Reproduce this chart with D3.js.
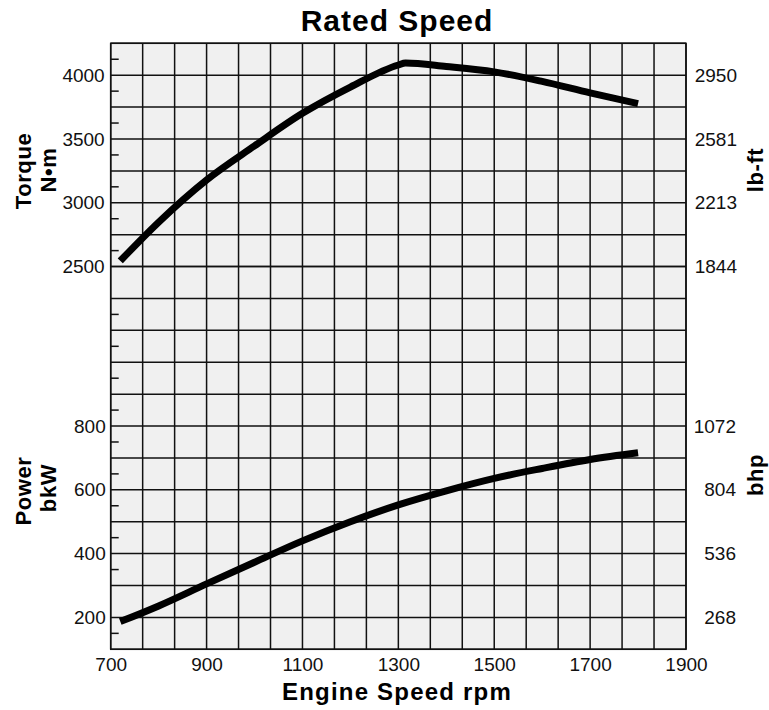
<!DOCTYPE html>
<html>
<head>
<meta charset="utf-8">
<script src="https://cdn.jsdelivr.net/npm/d3@7"></script>
<style>
  body { margin: 0; background: #fff; }
  svg { display: block; font-family: "Liberation Sans", Arial, Helvetica, sans-serif; }
</style>
</head>
<body>
<div id="chart"></div>
<script>
// Rated speed curves: torque and power vs engine speed

// engine speed (rpm) for each sample point
const torqueRpm = [720, 800, 900, 1000, 1100, 1200, 1300, 1315, 1400, 1500, 1600, 1700, 1800];
// torque N·m
const torqueVals = [2545, 2848, 3179, 3446, 3701, 3907, 4080, 4095, 4068, 4026, 3951, 3861, 3777];

const powerRpm = [720, 800, 900, 1000, 1100, 1200, 1300, 1400, 1500, 1600, 1700, 1800];
// power bkW
const powerVals = [187, 236, 305, 373, 440, 500, 553, 597, 636, 667, 695, 716];

// tick labels
const rpmTicks = [700, 900, 1100, 1300, 1500, 1700, 1900];
const torqueTicks = [2500, 3000, 3500, 4000];
const lbftLabels = ["1844", "2213", "2581", "2950"];
const powerTicks = [200, 400, 600, 800];
const bhpLabels = ["268", "536", "804", "1072"];
const torqueMinor = [4125, 3875, 3625, 3375, 3125, 2875, 2625];
const powerMinor = [1150, 1050, 950, 850, 750, 650, 550, 450, 350, 150];

{
    // Layout
    const W = 769, H = 710;
    const pLeft = 110.7, pRight = 686, pTop = 43.3, pBottom = 649.3;
    const cell = (pBottom - pTop) / 19;

    const svg = d3.select("#chart").append("svg")
        .attr("width", W)
        .attr("height", H);

    // Scales
    const x = d3.scaleLinear().domain([700, 1900]).range([pLeft, pRight]);
    const yT = d3.scaleLinear().domain([4250, 2500]).range([pTop, pTop + 7 * cell]);
    const yP = d3.scaleLinear().domain([100, 800]).range([pBottom, pBottom - 7 * cell]);

    // Plot background
    svg.append("rect")
        .attr("x", pLeft).attr("y", pTop)
        .attr("width", pRight - pLeft).attr("height", pBottom - pTop)
        .attr("fill", "#f0f0f0");

    /*#### Grid ####*/
    const grid = svg.append("g").attr("stroke", "#111").attr("stroke-width", 1.5);

    // vertical lines, three per 200 rpm
    grid.selectAll(".vline")
        .data(d3.range(0, 19).map(i => 700 + i * 200 / 3))
        .join("line").attr("class", "vline")
        .attr("x1", d => x(d)).attr("x2", d => x(d))
        .attr("y1", pTop).attr("y2", pBottom);

    // horizontal lines (torque half, then power half)
    grid.selectAll(".ht")
        .data(d3.range(4250, 2499, -250))
        .join("line").attr("class", "ht")
        .attr("x1", pLeft).attr("x2", pRight)
        .attr("y1", d => yT(d)).attr("y2", d => yT(d));
    grid.selectAll(".hp")
        .data(d3.range(100, 1301, 100))
        .join("line").attr("class", "hp")
        .attr("x1", pLeft).attr("x2", pRight)
        .attr("y1", d => yP(d)).attr("y2", d => yP(d));

    // minor ticks on the left border
    grid.selectAll(".mt")
        .data(torqueMinor)
        .join("line").attr("class", "mt")
        .attr("x1", pLeft).attr("x2", pLeft + 8)
        .attr("y1", d => yT(d)).attr("y2", d => yT(d));
    grid.selectAll(".mp")
        .data(powerMinor)
        .join("line").attr("class", "mp")
        .attr("x1", pLeft).attr("x2", pLeft + 8)
        .attr("y1", d => yP(d)).attr("y2", d => yP(d));

    // frame
    svg.append("rect")
        .attr("x", pLeft).attr("y", pTop)
        .attr("width", pRight - pLeft).attr("height", pBottom - pTop)
        .attr("fill", "none").attr("stroke", "#111").attr("stroke-width", 1.5);

    /*#### Axes ####*/
    function styleAxis(g) {
        g.select(".domain").remove();
        g.selectAll("text")
            .attr("font-size", 19)
            .attr("font-family", '"Liberation Sans", Arial, Helvetica, sans-serif')
            .attr("fill", "#111");
    }

    svg.append("g")
        .attr("transform", "translate(" + pLeft + ",0)")
        .call(d3.axisLeft(yT).tickValues(torqueTicks).tickSize(0).tickPadding(6).tickFormat(d3.format("d")))
        .call(styleAxis);

    svg.append("g")
        .attr("transform", "translate(" + pLeft + ",0)")
        .call(d3.axisLeft(yP).tickValues(powerTicks).tickSize(0).tickPadding(5).tickFormat(d3.format("d")))
        .call(styleAxis);

    svg.append("g")
        .attr("transform", "translate(" + pRight + ",0)")
        .call(d3.axisRight(yT).tickValues(torqueTicks).tickSize(0)
            .tickFormat((d, i) => lbftLabels[i]))
        .call(styleAxis)
        .selectAll("text").attr("text-anchor", "end").attr("x", 51);

    svg.append("g")
        .attr("transform", "translate(" + pRight + ",0)")
        .call(d3.axisRight(yP).tickValues(powerTicks).tickSize(0)
            .tickFormat((d, i) => bhpLabels[i]))
        .call(styleAxis)
        .selectAll("text").attr("text-anchor", "end").attr("x", 50);

    svg.append("g")
        .attr("transform", "translate(0," + pBottom + ")")
        .call(d3.axisBottom(x).tickValues(rpmTicks).tickSize(0).tickPadding(8).tickFormat(d3.format("d")))
        .call(styleAxis);

    /*#### Curves ####*/
    const torqueLine = d3.line()
        .x((d, i) => x(torqueRpm[i]))
        .y(d => yT(d))
        .curve(d3.curveMonotoneX);
    const powerLine = d3.line()
        .x((d, i) => x(powerRpm[i]))
        .y(d => yP(d))
        .curve(d3.curveCatmullRom.alpha(0.5));

    svg.append("path")
        .attr("d", torqueLine(torqueVals))
        .attr("fill", "none").attr("stroke", "#000").attr("stroke-width", 7);
    svg.append("path")
        .attr("d", powerLine(powerVals))
        .attr("fill", "none").attr("stroke", "#000").attr("stroke-width", 7);

    /*#### Titles ####*/
    svg.append("text")
        .attr("x", 397).attr("y", 31)
        .attr("text-anchor", "middle")
        .attr("font-size", 30).attr("font-weight", "bold")
        .attr("letter-spacing", 1)
        .text("Rated Speed");

    svg.append("text")
        .attr("x", 397).attr("y", 700)
        .attr("text-anchor", "middle")
        .attr("font-size", 24).attr("font-weight", "bold")
        .attr("letter-spacing", 1.2)
        .text("Engine Speed rpm");

    function sideTitle(cx, cy, txt) {
        svg.append("text")
            .attr("transform", "translate(" + cx + "," + cy + ") rotate(-90)")
            .attr("text-anchor", "middle")
            .attr("dy", "0.35em")
            .attr("font-size", 22).attr("font-weight", "bold")
            .attr("letter-spacing", 0.6)
            .text(txt);
    }
    sideTitle(23, 171, "Torque");
    sideTitle(48, 170, "N\u2022m");
    sideTitle(23, 491, "Power");
    sideTitle(48, 488, "bkW");
    sideTitle(755, 170, "lb-ft");
    sideTitle(755, 475, "bhp");
}
</script>
</body>
</html>
